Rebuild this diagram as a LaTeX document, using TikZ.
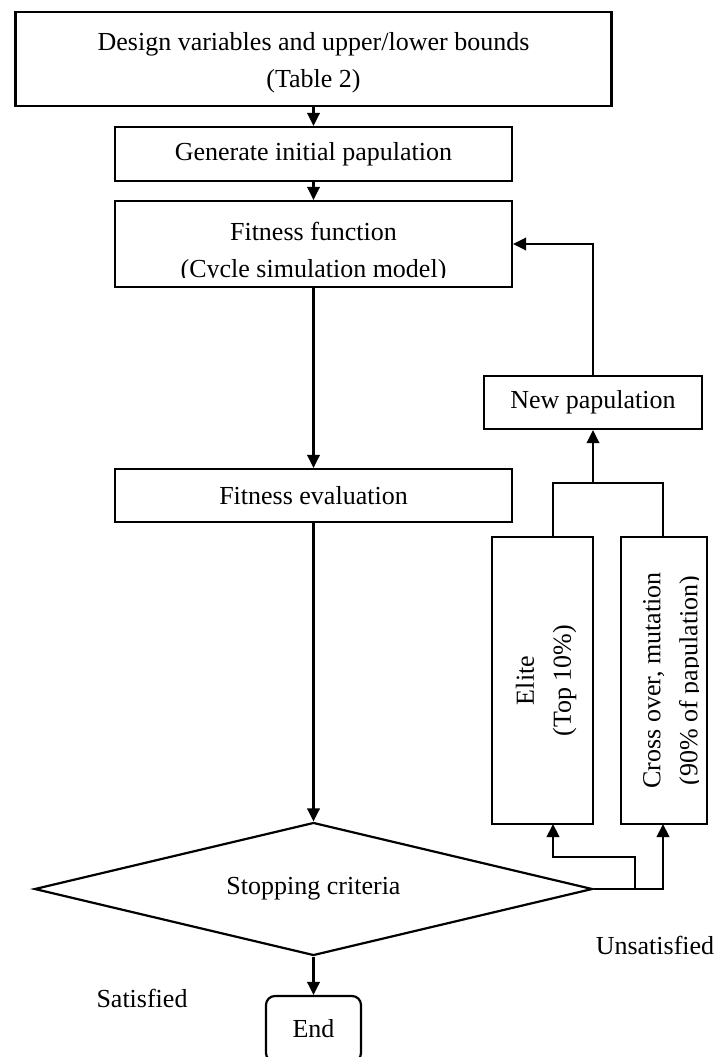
\documentclass[tikz,border=0pt]{standalone}
\usepackage{fontspec}
\setmainfont{Liberation Serif}
\usetikzlibrary{arrows.meta,shapes.geometric}
\begin{document}
\begin{tikzpicture}[x=1pt,y=-1pt,
  every node/.style={font=\fontsize{26}{37}\selectfont},
  box/.style={draw,line width=2.2pt,rectangle,inner sep=0pt,align=center},
  txt/.style={inner sep=0pt,align=center},
  conn/.style={line width=2.2pt},
  arr/.style={conn,-{Triangle[length=13pt,width=12.5pt]}}]
\useasboundingbox (0,0) rectangle (717,1057);
% boxes
\node[box,minimum width=596pt,minimum height=94pt] (top) at (313.5,59) {};
\node[txt] (toptxt) at (313.5,63) {Design variables and upper/lower bounds\\(Table 2)};
\node[box,minimum width=397pt,minimum height=54pt] (gen) at (313.5,154)
  {Generate initial papulation};
\node[box,minimum width=397pt,minimum height=86pt] (fit) at (313.5,244) {};
\begin{scope}
  \clip (115,201) rectangle (512,277.5);
  \node[txt] (fittxt) at (313.5,253) {Fitness function\\(Cycle simulation model)};
\end{scope}
\node[box,minimum width=397pt,minimum height=53pt] (eval) at (313.5,495.5)
  {Fitness evaluation};
\node[box,minimum width=218pt,minimum height=53pt] (newpop) at (593,402.5)
  {New papulation};
\node[box,minimum width=101pt,minimum height=287pt] (elite) at (542.5,680.5) {};
\node[txt,rotate=90] (elitetxt) at (546,680.5) {Elite\\(Top 10\%)};
\node[box,minimum width=86pt,minimum height=287pt] (cross) at (664,680.5) {};
\begin{scope}
  \clip (621,537) rectangle (698.5,824);
  \node[txt,rotate=90] (crosstxt) at (673,680.5) {Cross over, mutation\\(90\% of papulation)};
\end{scope}
\node[draw,diamond,aspect=4.2,minimum width=558pt,minimum height=133pt,
  inner sep=0pt,line width=2.2pt] (dia) at (313.5,889) {Stopping criteria};
\node[box,rounded corners=9pt,minimum width=95pt,minimum height=66pt] (end) at (313.5,1029) {End};
\node[txt] (uns) at (655,945) {Unsatisfied};
\node[txt] (sat) at (142,998) {Satisfied};
% coordinates
\coordinate (j) at (593,483);
\coordinate (et) at (553,537);
\coordinate (ct) at (663,537);
\coordinate (eb) at (553,824);
\coordinate (cb) at (663,824);
\coordinate (br) at (635,889);
\coordinate (bk) at (553,857);
% connectors
\draw[arr] (top) -- (gen);
\draw[arr] (gen) -- (fit);
\draw[arr] (fit) -- (eval);
\draw[arr] (eval) -- (dia);
\draw[arr] (dia) -- (end);
\draw[arr] (newpop.north) |- (fit.east);
\draw[arr] (j) -- (newpop.south);
\draw[conn] (et) |- (j) -| (ct);
\draw[arr] (dia.east) -| (cb);
\draw[arr] (br) |- (bk) -- (eb);
\end{tikzpicture}
\end{document}
